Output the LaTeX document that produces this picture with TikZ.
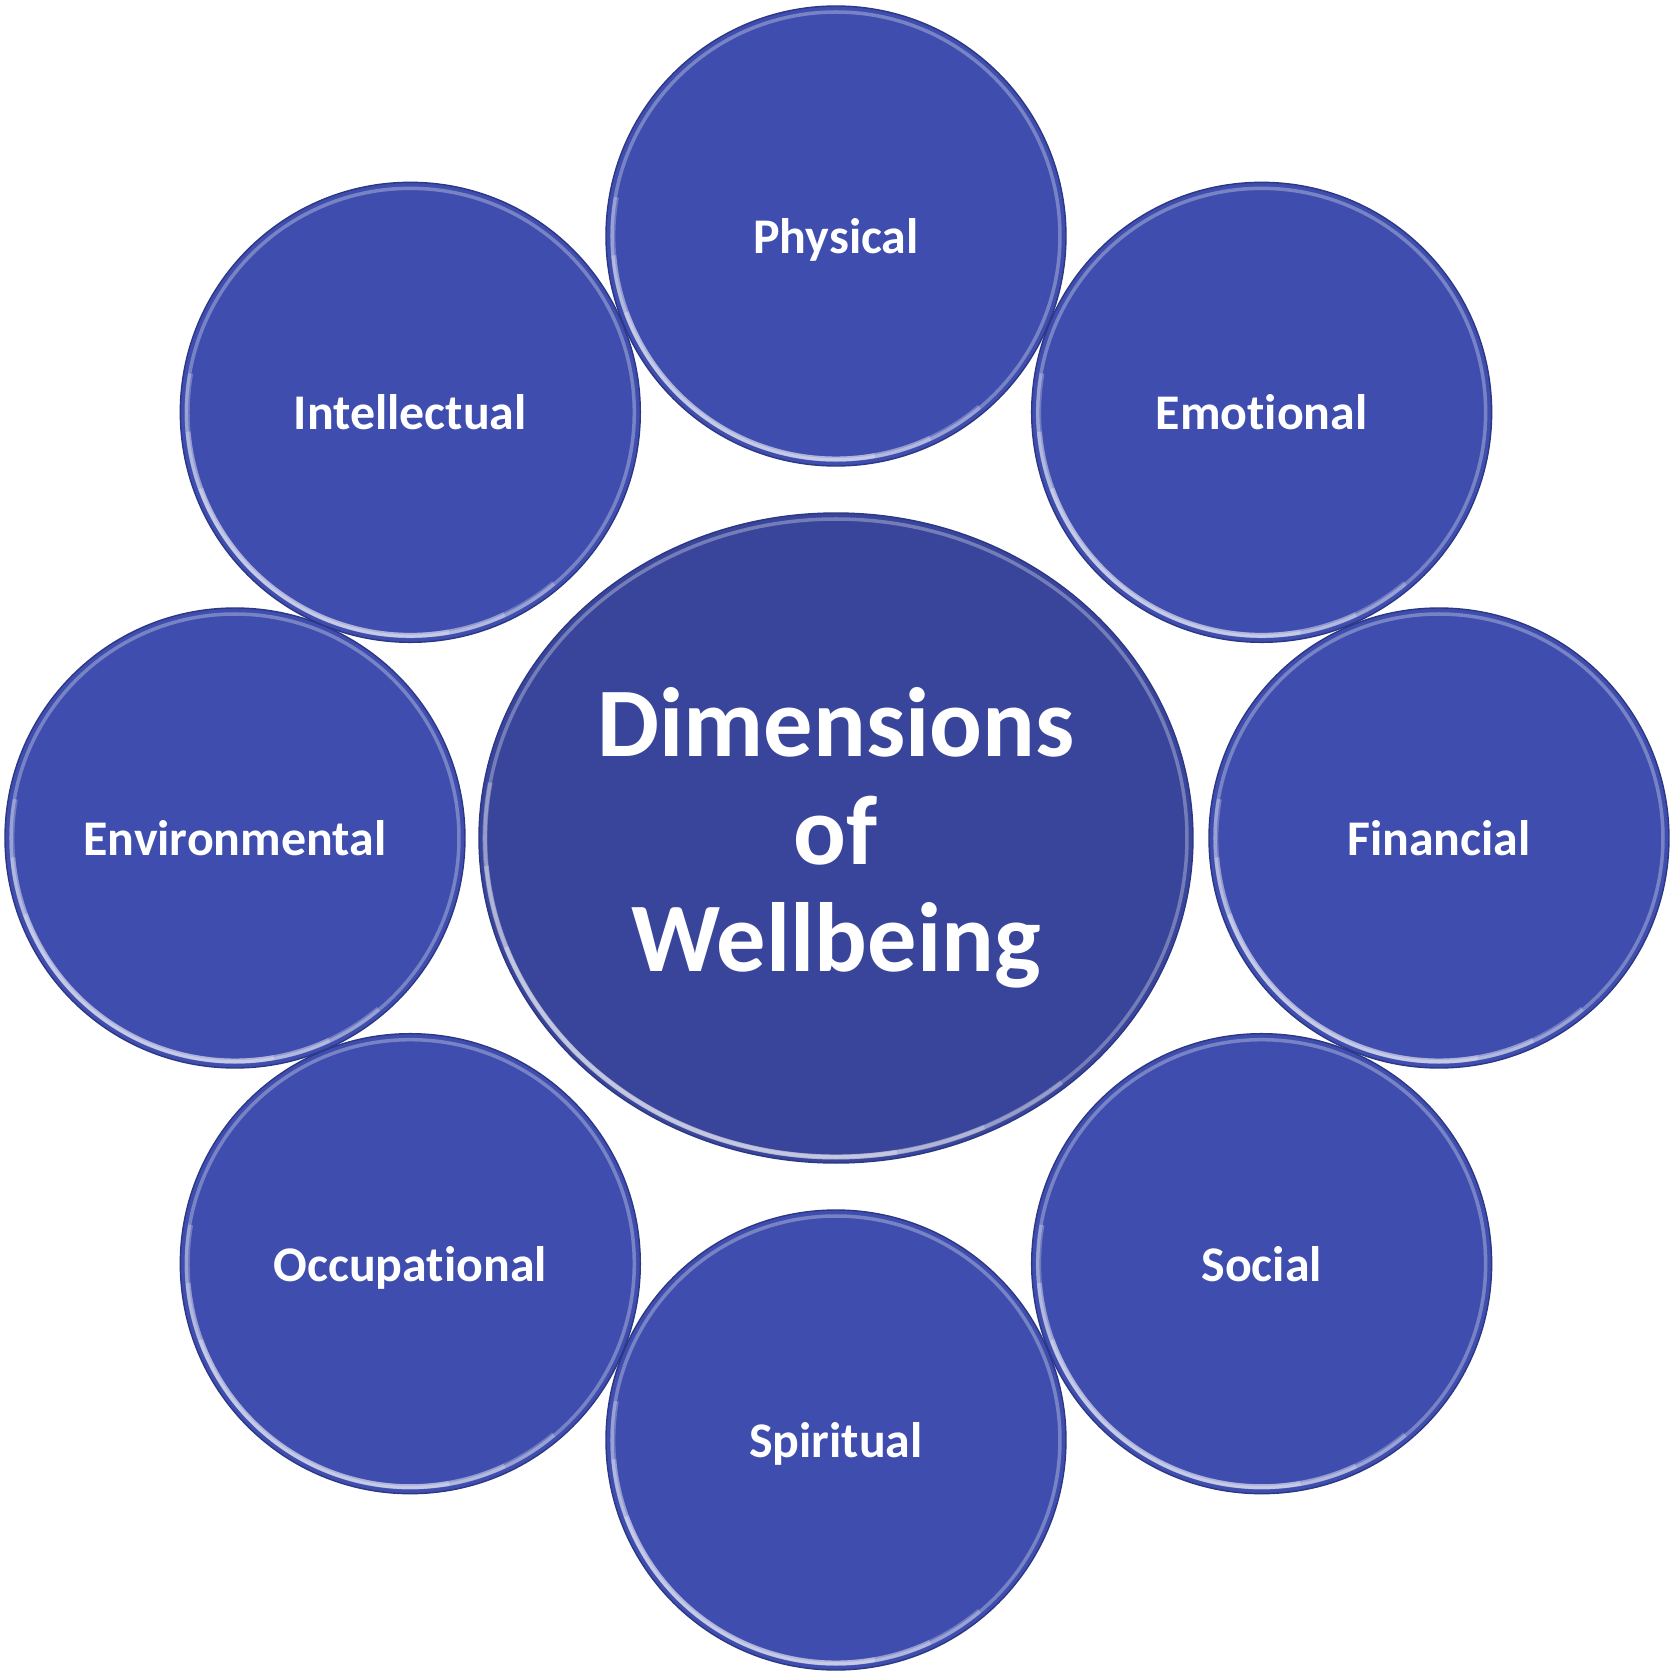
\documentclass[tikz,border=0pt]{standalone}
\usepackage{fontspec}
\setmainfont{Carlito}[Ligatures=CommonOff]
\usepackage{tikz}
\usetikzlibrary{positioning, shapes.geometric}
\usepackage{xcolor}

\definecolor{dimblue}{HTML}{3F4EAE}
\definecolor{coreblue}{HTML}{39459A}
\definecolor{rimdark}{HTML}{2C3785}

\begin{document}
\begin{tikzpicture}[
    dimension/.style={circle, minimum size=4.6cm, inner sep=0pt, fill=dimblue,
    draw=rimdark, line width=0.4pt, text=white, text depth=0pt,
    font=\bfseries\fontsize{14.2}{16}\selectfont,
    path picture={
        \draw[white, opacity=0.3, line width=1pt] (path picture bounding box.center) circle (2.24cm);
        \draw[white, opacity=0.25, line width=1.4pt] ([shift={(170:2.23)}]path picture bounding box.center) arc (170:310:2.23);
        \draw[white, opacity=0.25, line width=1.4pt] ([shift={(185:2.23)}]path picture bounding box.center) arc (185:295:2.23);
        \draw[white, opacity=0.25, line width=1.4pt] ([shift={(200:2.23)}]path picture bounding box.center) arc (200:280:2.23);
    }},
    core/.style={ellipse, minimum width=7.14cm, minimum height=6.5cm, inner sep=0pt,
    fill=coreblue, draw=rimdark, line width=0.4pt, text=white, align=center,
    font=\bfseries\fontsize{28}{30.5}\selectfont,
    path picture={
        \draw[white, opacity=0.3, line width=1pt] (path picture bounding box.center) ellipse (3.51cm and 3.19cm);
        \draw[white, opacity=0.25, line width=1.4pt] ([shift={(170:3.51cm and 3.19cm)}]path picture bounding box.center) arc [start angle=170, end angle=310, x radius=3.51cm, y radius=3.19cm];
        \draw[white, opacity=0.25, line width=1.4pt] ([shift={(185:3.51cm and 3.19cm)}]path picture bounding box.center) arc [start angle=185, end angle=295, x radius=3.51cm, y radius=3.19cm];
        \draw[white, opacity=0.25, line width=1.4pt] ([shift={(200:3.51cm and 3.19cm)}]path picture bounding box.center) arc [start angle=200, end angle=280, x radius=3.51cm, y radius=3.19cm];
    }}]

    \useasboundingbox (-8.36,-8.38) rectangle (8.40,8.38);

    % Centre
    \node[core] (wellbeing) at (0,0) {Dimensions\\of\\Wellbeing};

    % Dimensions around the centre
    \node[dimension] (physical) at (90:6.02) {Physical};
    \node[dimension] (emotional) at (45:6.02) {Emotional};
    \node[dimension] (financial) at (0:6.03) {Financial};
    \node[dimension] (social) at (-45:6.02) {Social};
    \node[dimension] (spiritual) at (-90:6.02) {Spiritual};
    \node[dimension] (occupational) at (-135:6.02) {Occupational};
    \node[dimension] (environmental) at (180:6.01) {Environmental};
    \node[dimension] (intellectual) at (135:6.02) {Intellectual};

\end{tikzpicture}
\end{document}
